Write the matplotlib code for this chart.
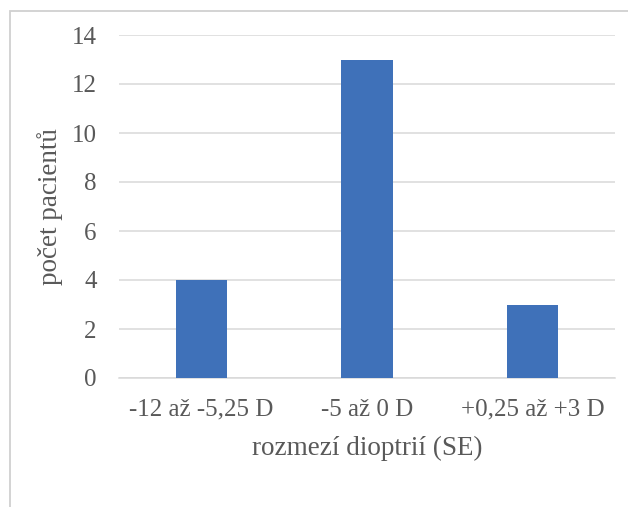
import matplotlib
matplotlib.use("Agg")
import matplotlib.pyplot as plt
from matplotlib.patches import Rectangle

categories = ["-12 až -5,25 D", "-5 až 0 D", "+0,25 až +3 D"]
patients = [4, 13, 3]
y_ticks = [0, 2, 4, 6, 8, 10, 12, 14]

W, H = 628, 507
fig = plt.figure(figsize=(W / 100, H / 100), dpi=100)
plt.rcParams["font.family"] = ["Liberation Serif", "DejaVu Serif"]

# outer chart frame (top and left edges visible)
fig.patches.append(Rectangle((10 / W, -0.1), 1.2, 1 - 11 / H + 0.1,
                             transform=fig.transFigure, fill=False,
                             edgecolor="#d0d0d0", linewidth=1.3))

left, right, top, bottom = 119, 615, 35, 378
ax = fig.add_axes([left / W, 1 - bottom / H, (right - left) / W, (bottom - top) / H])

x = range(len(categories))
ax.bar(x, patients, width=0.31, color="#3f71b9", zorder=3)
ax.set_xlim(-0.5, len(categories) - 0.5)
ax.set_ylim(0, 14)
ax.set_yticks(y_ticks)
ax.set_xticks(list(x))
ax.set_xticklabels(categories)
ax.yaxis.grid(True, color="#d9d9d9", linewidth=1.1, zorder=0)
for s in ax.spines.values():
    s.set_visible(False)
ax.spines["bottom"].set_visible(True)
ax.spines["bottom"].set_color("#d9d9d9")
ax.spines["bottom"].set_linewidth(1.1)
ax.tick_params(axis="both", length=0, labelsize=18, labelcolor="#595959")
ax.tick_params(axis="y", pad=16)
ax.tick_params(axis="x", pad=15)
ax.set_xlabel("rozmezí dioptrií (SE)", fontsize=19.5, color="#595959", labelpad=11)
ax.set_ylabel("počet pacientů", fontsize=19.5, color="#595959", labelpad=6)

fig.savefig("out.png", dpi=100)
